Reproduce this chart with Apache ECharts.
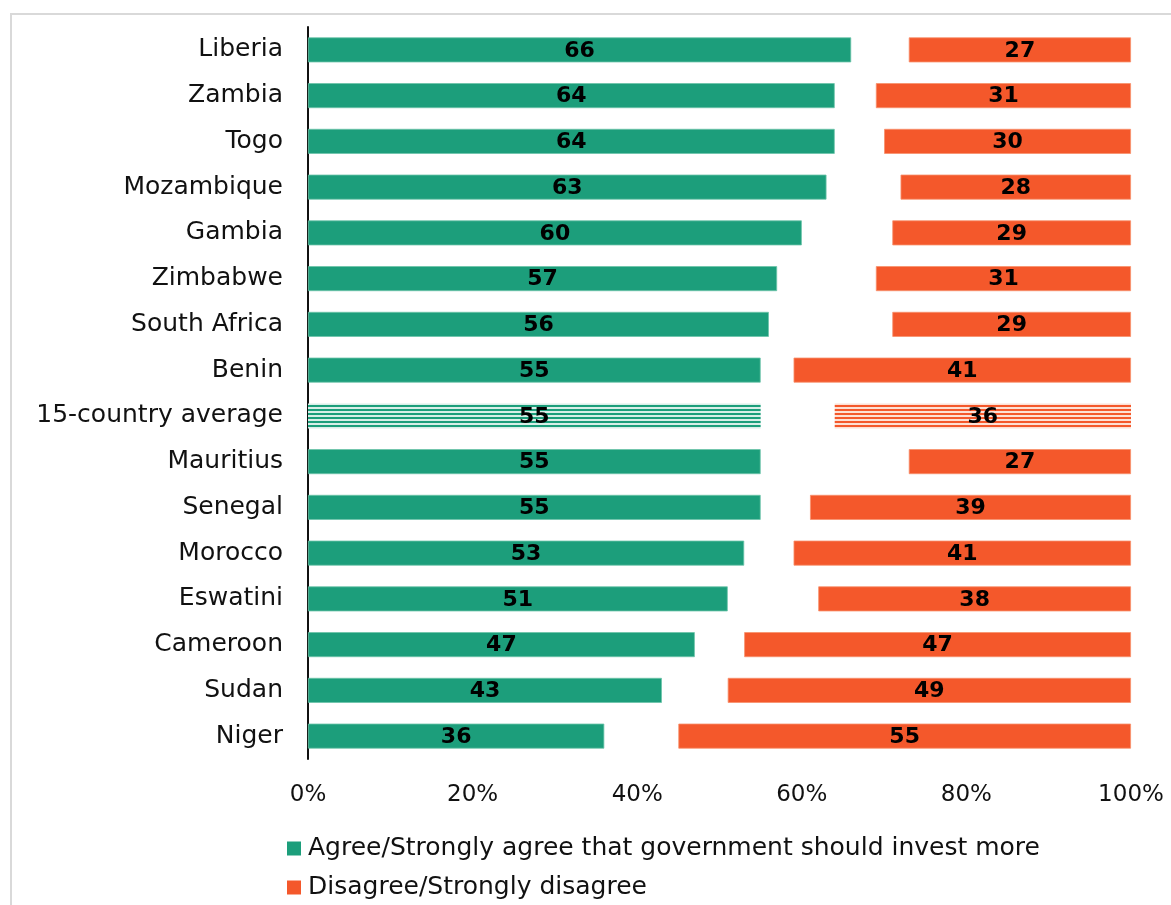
<!DOCTYPE html>
<html>
<head>
<meta charset="utf-8">
<script src="https://cdn.jsdelivr.net/npm/echarts@6/dist/echarts.min.js"></script>
<style>
  html, body { margin: 0; padding: 0; background: #fff; }
  #chart { width: 1171px; height: 905px; }
</style>
</head>
<body>
<div id="chart"></div>
<script>
// Countries, top to bottom
const countries = [
  'Liberia', 'Zambia', 'Togo', 'Mozambique', 'Gambia', 'Zimbabwe',
  'South Africa', 'Benin', '15-country average', 'Mauritius', 'Senegal',
  'Morocco', 'Eswatini', 'Cameroon', 'Sudan', 'Niger'
];
// Percent who agree government should invest more
const agree = [66, 64, 64, 63, 60, 57, 56, 55, 55, 55, 55, 53, 51, 47, 43, 36];
// Percent who disagree
const disagree = [27, 31, 30, 28, 29, 31, 29, 41, 36, 27, 39, 41, 38, 47, 49, 55];
// Axis tick labels
const tickLabels = ['0%', '20%', '40%', '60%', '80%', '100%'];

const averageName = '15-country average';
const GREEN = '#1c9e7b';
const ORANGE = '#f4582b';
const FONT = "'DejaVu Sans', sans-serif";

// Horizontal stripe fill used for the average row
function stripes(color, light) {
  const c = document.createElement('canvas');
  c.width = 8; c.height = 4;
  const g = c.getContext('2d');
  g.fillStyle = light; g.fillRect(0, 0, 8, 4);
  g.fillStyle = color; g.fillRect(0, 1, 8, 2);
  return { image: c, repeat: 'repeat' };
}

// Remainder (neither / don't know) fills the gap between the two bars
const gap = agree.map((a, i) => 100 - a - disagree[i]);

function seriesData(values, color, light) {
  return values.map((v, i) => countries[i] === averageName
    ? { value: v, itemStyle: { color: stripes(color, light), borderWidth: 0 } }
    : v);
}

const labelStyle = {
  show: true, position: 'inside', color: '#000', offset: [0, 1],
  fontFamily: FONT, fontWeight: 'bold', fontSize: 22
};

const chart = echarts.init(document.getElementById('chart'), null, { renderer: 'canvas' });
chart.setOption({
  animation: false,
  backgroundColor: '#fff',
  graphic: [{
    type: 'rect', silent: true,
    shape: { x: 11, y: 14, width: 1300, height: 1000 },
    style: { fill: 'none', stroke: '#d9d9d9', lineWidth: 2 }
  }],
  grid: { left: 308, right: 40, top: 27, height: 732, containLabel: false },
  legend: {
    orient: 'vertical', left: 282, top: 831,
    itemWidth: 14, itemHeight: 14, itemGap: 14,
    icon: 'rect',
    itemStyle: { borderWidth: 0 },
    data: ['Agree/Strongly agree that government should invest more', 'Disagree/Strongly disagree'],
    textStyle: { fontFamily: FONT, fontSize: 25, color: '#111', padding: [0, 0, 0, 2] }
  },
  xAxis: {
    type: 'value', min: 0, max: 100, interval: 20,
    axisLine: { show: false }, axisTick: { show: false }, splitLine: { show: false },
    axisLabel: {
      margin: 25, color: '#111', fontFamily: FONT, fontSize: 23,
      formatter: v => tickLabels[v / 20]
    }
  },
  yAxis: {
    type: 'category', data: countries, inverse: true,
    axisLine: { show: true, lineStyle: { color: '#111', width: 2 } },
    axisTick: { show: false },
    axisLabel: { margin: 25, color: '#111', fontFamily: FONT, fontSize: 25 }
  },
  series: [
    {
      name: 'Agree/Strongly agree that government should invest more',
      type: 'bar', stack: 'total', barWidth: 25,
      itemStyle: { color: GREEN, borderColor: '#6cc4a9', borderWidth: 0.8 },
      label: labelStyle,
      data: seriesData(agree, GREEN, '#d8efe8')
    },
    {
      name: 'gap', type: 'bar', stack: 'total', barWidth: 25,
      itemStyle: { color: 'transparent' }, silent: true,
      data: gap
    },
    {
      name: 'Disagree/Strongly disagree',
      type: 'bar', stack: 'total', barWidth: 25,
      itemStyle: { color: ORANGE, borderColor: '#f8906c', borderWidth: 0.8 },
      label: labelStyle,
      data: seriesData(disagree, ORANGE, '#fde0d4')
    }
  ]
});
</script>
</body>
</html>
